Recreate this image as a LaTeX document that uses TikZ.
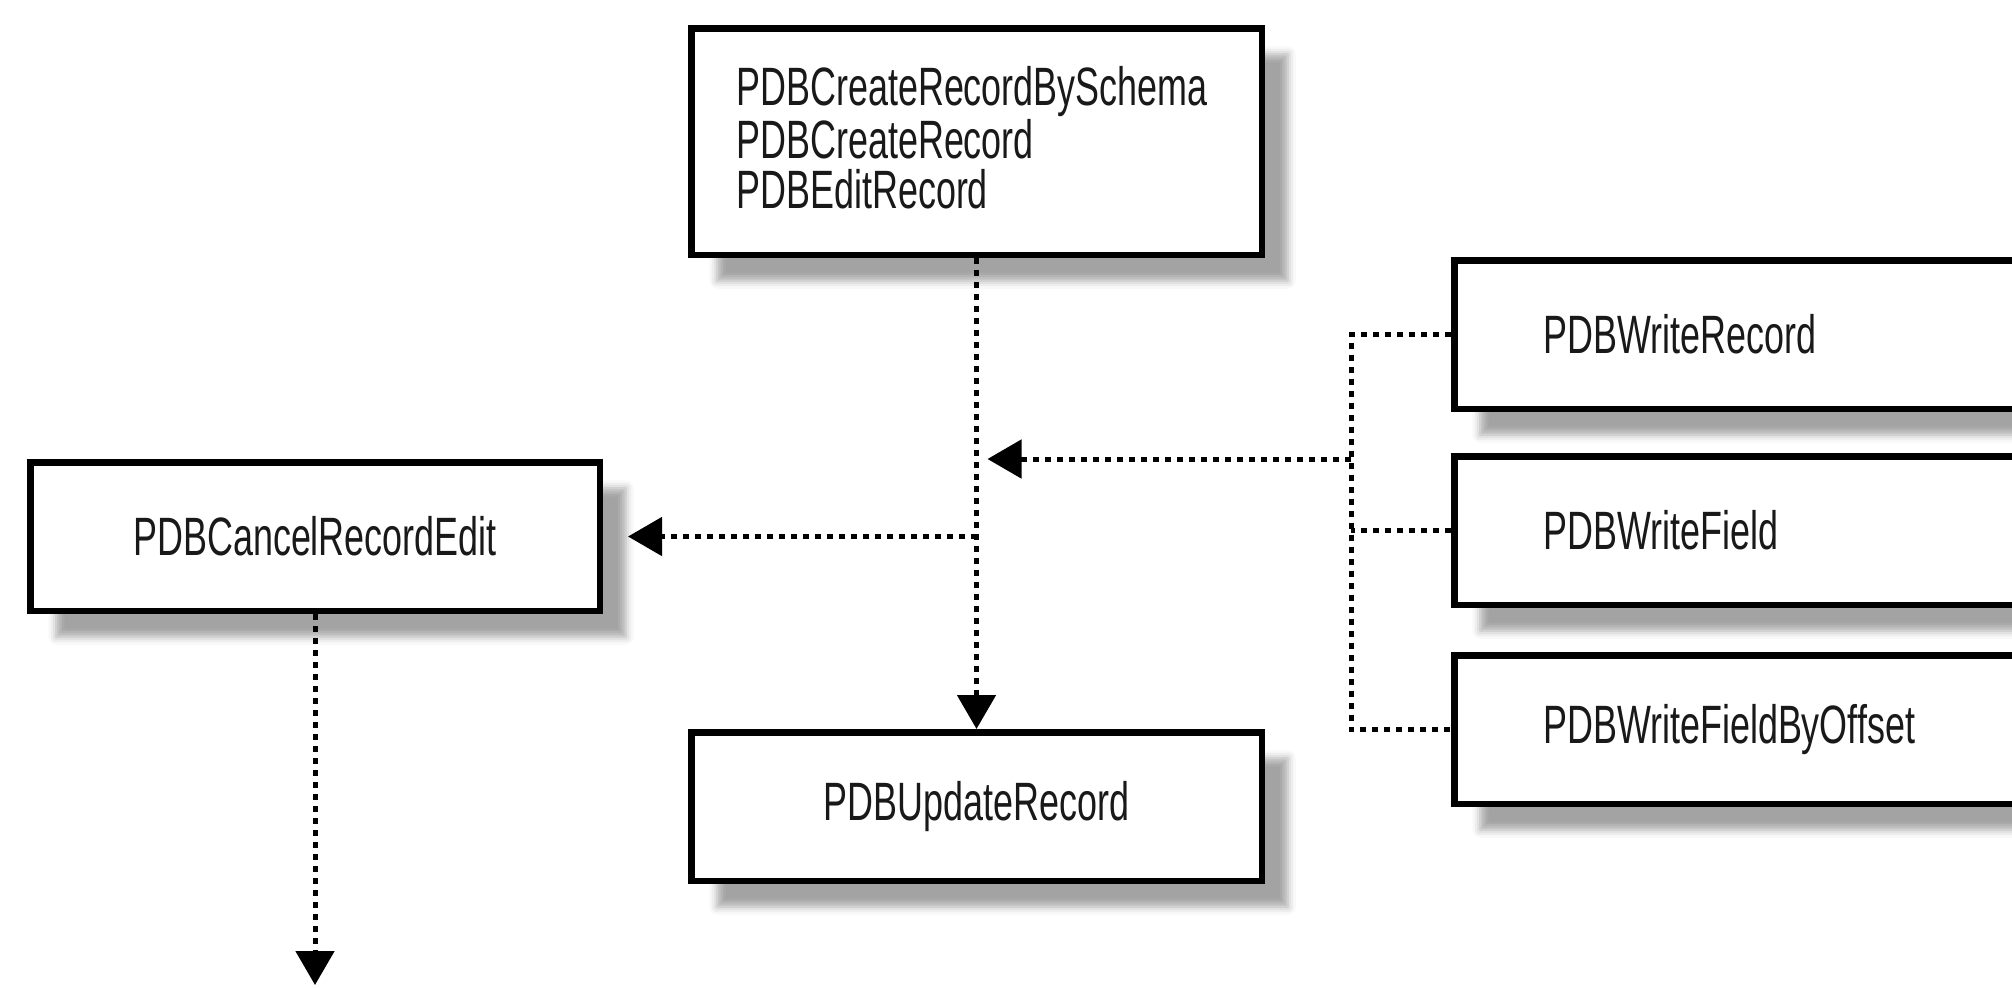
\documentclass[tikz,border=0pt]{standalone}
\usepackage{fontspec}
\setmainfont{Liberation Sans}[FakeStretch=0.665]
\usetikzlibrary{arrows.meta,shadows.blur,calc}
\tikzset{
  box/.style={draw=black, line width=3.25pt, fill=white, rectangle, anchor=north west,
    inner sep=0pt, font=\fontsize{27pt}{25pt}\selectfont, text=black!90,
    blur shadow={shadow xshift=13pt, shadow yshift=-13pt, shadow blur radius=4pt, shadow opacity=36}},
  dotline/.style={line width=2.5pt, dash pattern=on 3pt off 3pt, draw=black},
  arr/.style={dotline, -{Triangle[length=17pt,width=19pt]}},
}
\begin{document}
\begin{tikzpicture}[x=0.5pt,y=-0.5pt]
\useasboundingbox (0,0) rectangle (2012,987);
\clip (0,0) rectangle (2012,987);
% boxes
\node[box, minimum width=285.25pt, minimum height=113.25pt, text width=240pt, align=left] (top) at (688,25)
  {PDBCreateRecordBySchema\\PDBCreateRecord\\PDBEditRecord\rule[-4pt]{0pt}{0pt}};
\node[box, minimum width=284.75pt, minimum height=74.25pt] (cancel) at (27,459) {PDBCancelRecordEdit};
\node[box, minimum width=285.25pt, minimum height=74.25pt] (update) at (688,729) {PDBUpdateRecord};
\node[box, minimum width=320pt, minimum height=74.25pt, text width=231pt, align=left] (w1) at (1451,257) {PDBWriteRecord};
\node[box, minimum width=320pt, minimum height=74.25pt, text width=231pt, align=left] (w2) at (1451,453) {PDBWriteField};
\node[box, minimum width=320pt, minimum height=74.25pt, text width=231pt, align=left] (w3) at (1451,652) {PDBWriteFieldByOffset};
% helper coordinates
\coordinate (bx) at (1351,459);
\coordinate (bot) at (0,985);
% connectors
\draw[arr] (top.south) -- (update.north);
\draw[arr, shorten >=12.5pt] (top.south |- cancel.east) -- (cancel.east);
\draw[arr] (cancel.south) -- (cancel.south |- bot);
\draw[dotline] (w1.west) -- (w1.west -| bx) -- (w3.west -| bx) -- (w3.west);
\draw[dotline] (w2.west) -- (w2.west -| bx);
\draw[arr, shorten >=5.5pt] (bx) -- (bx -| top.south);
\end{tikzpicture}
\end{document}
